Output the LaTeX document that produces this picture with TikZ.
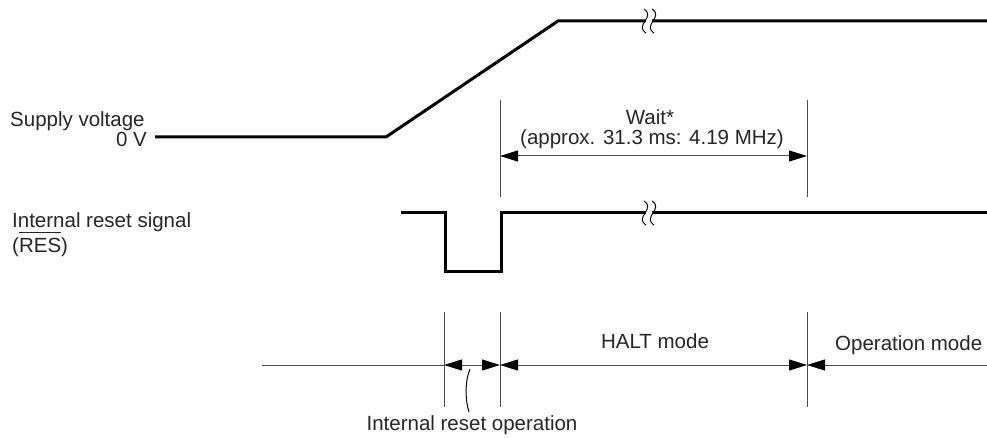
\documentclass[tikz,border=0pt]{standalone}
\usepackage{fontspec}
\setmainfont{Liberation Sans}
\usetikzlibrary{arrows.meta}

\newsavebox{\ovlbox}
\newcommand{\ovl}[1]{\sbox{\ovlbox}{#1}\rlap{\rule[0.98em]{\wd\ovlbox}{0.05em}}\usebox{\ovlbox}}

\begin{document}
\begin{tikzpicture}[x=1pt,y=-1pt,font=\fontsize{20.5}{24}\selectfont]
    \tikzstyle{signal}=[line width=3pt,black,line join=miter]
    \tikzstyle{guide}=[line width=1pt,black!70]
    \tikzstyle{dim}=[guide,{Triangle[length=18pt,width=11pt,color=black]}-{Triangle[length=18pt,width=11pt,color=black]}]
    \tikzstyle{label}=[inner sep=0pt,text=black!85]
    \tikzstyle{squiggle}=[line width=1pt,black]

    \useasboundingbox (0,0) rectangle (987,438);

    % Labels on the left
    \node[label,anchor=base west] (supply) at (10,127) {Supply voltage};
    \node[label,anchor=base east] (zero) at (147,147) {0 V};
    \node[label,anchor=base west] (reset) at (12,228) {Internal reset signal};
    \node[label,anchor=base west] (res) at (12,253) {(\ovl{RES})};

    % Draw the supply voltage curve
    \coordinate (V-0) at (155,137);
    \coordinate (V-1) at (386,137);
    \coordinate (V-2) at (558,21);
    \coordinate (V-3) at (987,21);
    \draw[signal] (V-0) -- (V-1) -- (V-2) -- (V-3);

    % Draw the internal reset signal
    \coordinate (R-0) at (401,213);
    \coordinate (R-1) at (445,213);
    \coordinate (R-2) at (445,271);
    \coordinate (R-3) at (501,271);
    \coordinate (R-4) at (501,213);
    \coordinate (R-5) at (987,213);
    \draw[signal] (R-0) -- (R-1) -- (R-2) -- (R-3) -- (R-4) -- (R-5);

    % Break marks on both signals
    \foreach \y in {21,213} {
        \fill[white] (646,\y-3) rectangle (652,\y+3);
        \foreach \cx in {645,653}
            \draw[squiggle] (\cx-1,\y-12) .. controls (\cx+11,\y-4) and (\cx-11,\y+4) .. (\cx+1,\y+12);
    }

    % Wait period
    \foreach \name / \x in {a/500,b/807} {
        \coordinate (W-\name-top) at (\x,100);
        \coordinate (W-\name-bot) at (\x,197);
        \coordinate (W-\name) at (\x,156);
        \draw[guide] (W-\name-top) -- (W-\name-bot);
    }
    \draw[dim] (W-a) -- (W-b);
    \node[label,anchor=base] (wait) at (650,125) {Wait*};
    \node[label,anchor=base] (approx) at (652,145) {(approx. 31.3 ms: 4.19 MHz)};

    % Time axis with the mode periods
    \coordinate (T-start) at (262,365);
    \coordinate (T-end) at (987,365);
    \foreach \name / \x in {a/444,b/500,c/807} {
        \coordinate (T-\name-top) at (\x,312);
        \coordinate (T-\name-bot) at (\x,407);
        \coordinate (T-\name) at (\x,365);
        \draw[guide] (T-\name-top) -- (T-\name-bot);
    }
    \draw[guide] (T-start) -- (T-a);
    \draw[dim] (T-a) -- (T-b);
    \draw[dim] (T-b) -- (T-c);
    \draw[guide,{Triangle[length=18pt,width=11pt,color=black]}-] (T-c) -- (T-end);

    \node[label,anchor=base] (halt) at (655,348) {HALT mode};
    \node[label,anchor=base west] (oper) at (835,350) {Operation mode};
    \node[label,anchor=base] (rstop) at (472,430) {Internal reset operation};

    % Leader to the reset operation period
    \coordinate (L-top) at (470,369);
    \coordinate (L-bot) at (469,412);
    \draw[guide,black] (L-top) .. controls (465,380) and (465,400) .. (L-bot);
\end{tikzpicture}
\end{document}
